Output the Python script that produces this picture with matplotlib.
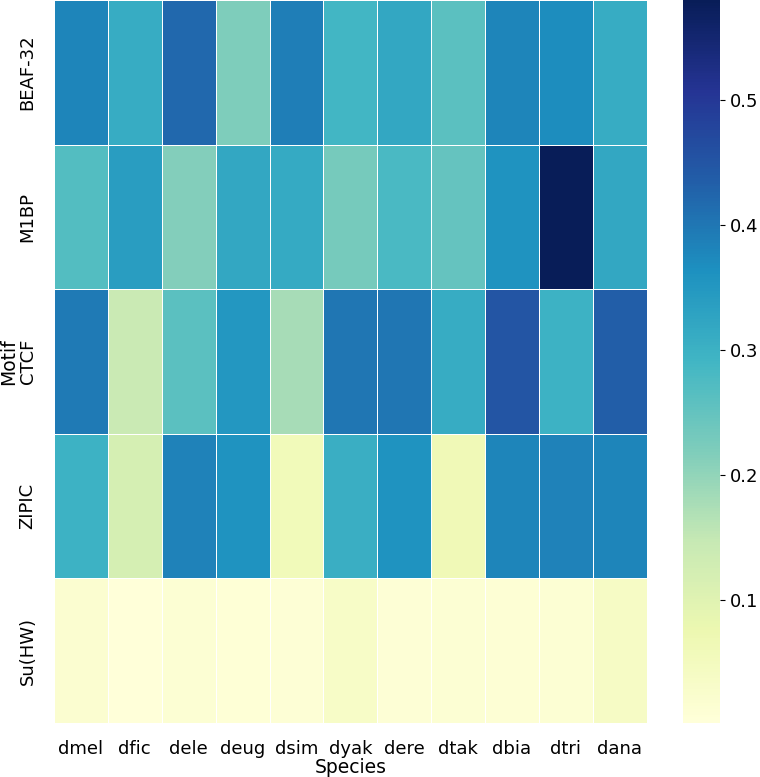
import matplotlib
matplotlib.use("Agg")
import matplotlib.pyplot as plt
import seaborn as sns
import numpy as np
import pandas as pd

species = ["dmel", "dfic", "dele", "deug", "dsim", "dyak", "dere", "dtak", "dbia", "dtri", "dana"]
motifs = ["BEAF-32", "M1BP", "CTCF", "ZIPIC", "Su(HW)"]

beaf32 = [0.38, 0.31, 0.42, 0.22, 0.39, 0.29, 0.32, 0.26, 0.38, 0.37, 0.31]
m1bp = [0.27, 0.34, 0.215, 0.32, 0.315, 0.23, 0.28, 0.25, 0.36, 0.58, 0.32]
ctcf = [0.395, 0.14, 0.26, 0.35, 0.18, 0.40, 0.40, 0.31, 0.45, 0.30, 0.435]
zipic = [0.30, 0.12, 0.385, 0.36, 0.06, 0.305, 0.36, 0.065, 0.38, 0.385, 0.38]
suhw = [0.02, 0.002, 0.015, 0.007, 0.01, 0.035, 0.01, 0.015, 0.012, 0.014, 0.04]

df = pd.DataFrame([beaf32, m1bp, ctcf, zipic, suhw], index=motifs, columns=species)
df.index.name = "Motif"
df.columns.name = "Species"

fig = plt.figure(figsize=(7.6, 7.77), dpi=100)
ax = fig.add_axes([0.071, 0.0695, 0.78, 0.9305])
cax = fig.add_axes([0.899, 0.0695, 0.0487, 0.9305])

sns.heatmap(df, cmap="YlGnBu", linewidths=0.5, linecolor="white", ax=ax, cbar_ax=cax)

ax.tick_params(left=False, bottom=False, labelsize=13, pad=9)
ax.set_yticklabels(motifs, rotation=90, va="center")
ax.set_xticklabels(species, rotation=0)
ax.set_xlabel("Species", fontsize=13.5, labelpad=0)
ax.set_ylabel("Motif", fontsize=13.5, labelpad=0)

cax.tick_params(labelsize=13)
cax.set_yticks([0.1, 0.2, 0.3, 0.4, 0.5])

fig.savefig("out.png", dpi=100)
